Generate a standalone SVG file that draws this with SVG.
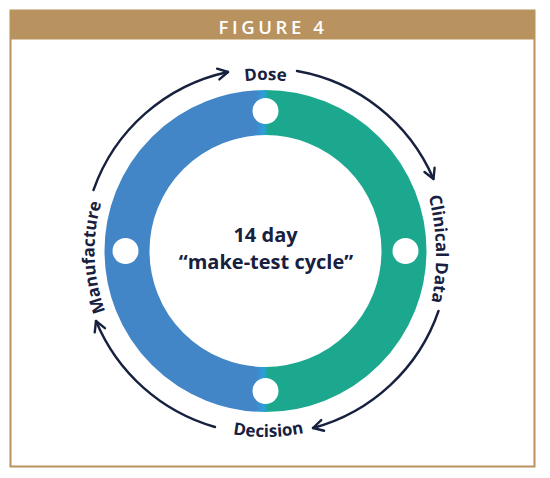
<svg xmlns="http://www.w3.org/2000/svg" width="550" height="478" viewBox="0 0 550 478">
  <defs>
    <style>
      .lbl { font-family: "Open Sans", "Liberation Sans", sans-serif; font-weight: 700; font-size: 17px; fill: #17213f; }
      .ctr { font-family: "Open Sans", "Liberation Sans", sans-serif; font-weight: 700; font-size: 20px; fill: #17213f; text-anchor: middle; }
      .arc { fill: none; stroke: #17213f; stroke-width: 2.4; stroke-linecap: round; marker-end: url(#chev); }
      .hole { fill: #ffffff; }
    </style>
    <marker id="chev" markerUnits="userSpaceOnUse" markerWidth="16" markerHeight="16" refX="0" refY="0" viewBox="-12 -8 14 16" orient="auto" overflow="visible">
      <path d="M-10,-5.5 L0,0 L-10,5.5" fill="none" stroke="#17213f" stroke-width="2.4" stroke-linecap="round" stroke-linejoin="round"/>
    </marker>
    <linearGradient id="ringGrad" gradientUnits="userSpaceOnUse" x1="105" y1="0" x2="426" y2="0">
      <stop offset="0" stop-color="#4386c7"/>
      <stop offset="0.47" stop-color="#4386c7"/>
      <stop offset="0.495" stop-color="#2a9fde"/>
      <stop offset="0.508" stop-color="#1ba88f"/>
      <stop offset="1" stop-color="#1ba88f"/>
    </linearGradient>
    <path id="pDose" d="M94.5,251 A171,171 0 0 1 436.5,251"/>
    <path id="pClin" d="M196,15 A240,240 0 0 1 196,495"/>
    <path id="pManu" d="M265.5,422 A171,171 0 0 1 265.5,80"/>
    <path id="pDec" d="M79.5,251 A186,186 0 0 0 451.5,251"/>
  </defs>

  <g id="frame">
    <rect x="10.5" y="10.5" width="524" height="456" fill="#ffffff" stroke="#b8935f" stroke-width="2"/>
    <rect x="10.5" y="10.5" width="524" height="29" fill="#b8935f"/>
    <text x="273" y="34" text-anchor="middle" font-family="'Open Sans', 'Liberation Sans', sans-serif" font-weight="600" font-size="18.5" letter-spacing="3.6" fill="#ffffff">FIGURE 4</text>
  </g>

  <g id="ring">
    <circle cx="265.5" cy="251" r="138.5" fill="none" stroke="url(#ringGrad)" stroke-width="45"/>
    <circle class="hole" cx="265.5" cy="111" r="13"/>
    <circle class="hole" cx="405.5" cy="251" r="13"/>
    <circle class="hole" cx="265.5" cy="391" r="13"/>
    <circle class="hole" cx="125.5" cy="251" r="13"/>
  </g>

  <g id="center-label">
    <text class="ctr"><tspan x="265.5" y="241.5">14 day</tspan><tspan x="266" y="269">“make-test cycle”</tspan></text>
  </g>

  <g id="node-dose">
    <text class="lbl"><textPath href="#pDose" startOffset="50%" text-anchor="middle">Dose</textPath></text>
  </g>
  <g id="node-clinical-data">
    <text class="lbl"><textPath href="#pClin" startOffset="49.2%" text-anchor="middle">Clinical Data</textPath></text>
  </g>
  <g id="node-decision">
    <text class="lbl"><textPath href="#pDec" startOffset="50.5%" text-anchor="middle">Decision</textPath></text>
  </g>
  <g id="node-manufacture">
    <text class="lbl"><textPath href="#pManu" startOffset="48.8%" text-anchor="middle">Manufacture</textPath></text>
  </g>

  <g id="connectors">
    <path class="arc" d="M93.5,190 A183,183 0 0 1 228,72"/>
    <path class="arc" d="M297,71 A183,183 0 0 1 433.5,179"/>
    <path class="arc" d="M438.5,311 A183,183 0 0 1 313,428"/>
    <path class="arc" d="M215,427 A183,183 0 0 1 96,321"/>
  </g>
</svg>
